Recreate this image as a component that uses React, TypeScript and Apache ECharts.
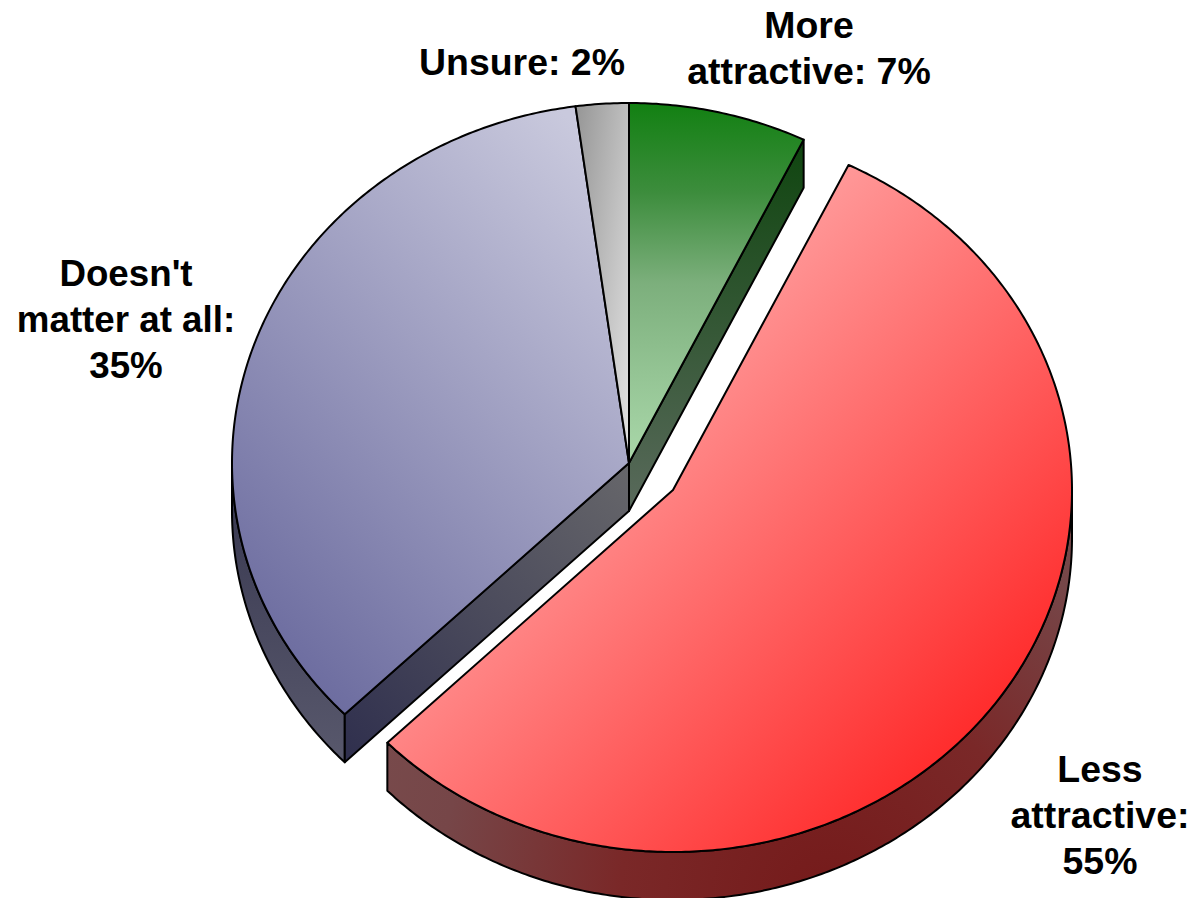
import React, { useEffect, useRef } from "react";
import * as echarts from "echarts";

const categories = ["More attractive", "Less attractive", "Doesn't matter at all", "Unsure"];
const values = [7.25, 55.45, 35.15, 2.15];
const labelTexts = ["More\nattractive: 7%", "Less\nattractive:\n55%", "Doesn't\nmatter at all:\n35%", "Unsure: 2%"];
const labelX = [809, 1100, 126, 522];
const labelY = [49, 816, 320, 63];
const labelScale = [1.04, 1.04, 1.02, 1.04];

const CX = 629;
const CY = 463;
const RX = [397, 399, 397, 397];
const RY = [360, 362, 360, 360];
const OFFSET_X = [0, 44, 0, 0];
const OFFSET_Y = [0, 27, 0, 0];
const DEPTH = 48;
const STROKE = "#000";

const LG = (x: number, y: number, x2: number, y2: number, ...colors: string[]) =>
  new echarts.graphic.LinearGradient(
    x, y, x2, y2,
    colors.map((color, k) => ({ offset: k / (colors.length - 1), color })),
    true
  );

const topFills = () => [
  LG(0, 103, 0, 463, "#128012", "#3d8d3d", "#7caf7c", "#94c494", "#aad8aa"),
  LG(500, 500, 875, 875, "#ff9a9a", "#ff2525"),
  LG(200, 600, 625, 175, "#6a6a9e", "#c9c9dd"),
  LG(578, 110, 669, 122, "#989898", "#e0e0e0"),
];

const sumBefore = (i: number) => values.slice(0, i).reduce((a, b) => a + b, 0);
const total = values.reduce((a, b) => a + b, 0);

function renderSlice(params: any, api: any) {
  const i = params.dataIndex;
  const start = (sumBefore(i) / total) * 2 * Math.PI;
  const end = start + (api.value(0) / total) * 2 * Math.PI;
  const cx = CX + OFFSET_X[i];
  const cy = CY + OFFSET_Y[i];
  const at = (t: number, dy = 0): number[] => [cx + RX[i] * Math.sin(t), cy - RY[i] * Math.cos(t) + dy];
  const arc = (a: number, b: number, dy = 0) => {
    const n = Math.max(2, Math.ceil(Math.abs(b - a) / 0.01));
    const pts: number[][] = [];
    for (let k = 0; k <= n; k++) pts.push(at(a + ((b - a) * k) / n, dy));
    return pts;
  };
  const children: any[] = [];
  const wall = (points: number[][], fill: any) =>
    children.push({
      type: "polygon",
      shape: { points },
      style: { fill, stroke: STROKE, lineWidth: 2, lineJoin: "round" },
    });

  // Rim: the part of the outer edge which faces the viewer (between 90 and 270 degrees).
  const rimA = Math.max(start, Math.PI / 2);
  const rimB = Math.min(end, 1.5 * Math.PI);
  if (i === 1) {
    const rimFill = new echarts.graphic.RadialGradient(
      830, 900, 600,
      [
        { offset: 0, color: "#751a1a" },
        { offset: 0.35, color: "#7a2828" },
        { offset: 0.65, color: "#764648" },
        { offset: 1, color: "#7a5050" },
      ],
      true
    );
    wall([...arc(rimA, rimB), ...arc(rimB, rimA, DEPTH)], rimFill);
  }
  if (i === 2) {
    wall([...arc(rimA, rimB), ...arc(rimB, rimA, DEPTH)], LG(0, 480, 0, 760, "#383850", "#58586c"));
    const corner = at(start);
    wall(
      [[cx, cy], corner, [corner[0], corner[1] + DEPTH], [cx, cy + DEPTH]],
      LG(629, 470, 344, 750, "#66666a", "#30304e")
    );
  }
  if (i === 0) {
    const corner = at(end);
    wall(
      [[cx, cy], corner, [corner[0], corner[1] + DEPTH], [cx, cy + DEPTH]],
      LG(0, 140, 0, 511, "#0f450f", "#5a6a5c")
    );
  }
  children.push({
    type: "polygon",
    shape: { points: [[cx, cy], ...arc(start, end)] },
    style: { fill: topFills()[i], stroke: STROKE, lineWidth: 2, lineJoin: "round" },
  });
  children.push({
    type: "text",
    x: labelX[i],
    y: labelY[i],
    scaleX: labelScale[i],
    style: {
      text: labelTexts[i],
      fill: "#000",
      font: 'bold 36px "Liberation Sans", Arial, sans-serif',
      lineHeight: 46,
      align: "center",
      verticalAlign: "middle",
    },
  });
  return { type: "group", children };
}

export default function App() {
  const ref = useRef<HTMLDivElement>(null);
  useEffect(() => {
    const chart = echarts.init(ref.current!, null, { renderer: "svg" });
    chart.setOption({
      animation: false,
      backgroundColor: "#fff",
      series: [
        {
          type: "custom",
          coordinateSystem: "none",
          renderItem: renderSlice,
          data: categories.map((name, i) => ({ name, value: [values[i]] })),
        },
      ],
    });
    return () => chart.dispose();
  }, []);
  return <div ref={ref} style={{ position: "absolute", left: 0, top: 0, width: 1193, height: 898 }} />;
}
